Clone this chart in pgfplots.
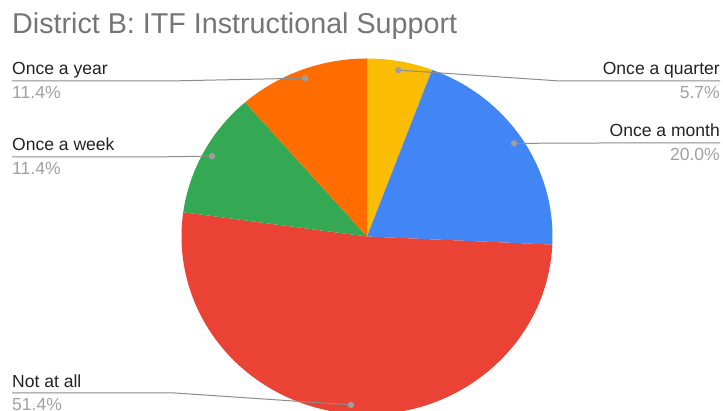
\documentclass[border=0pt]{standalone}
\usepackage{pgfplots}
\pgfplotsset{compat=1.18}
\usepackage{fontspec}
\setmainfont{Liberation Sans}
\definecolor{cQ}{HTML}{FBBC04}
\definecolor{cM}{HTML}{4285F4}
\definecolor{cN}{HTML}{EA4335}
\definecolor{cW}{HTML}{34A853}
\definecolor{cY}{HTML}{FF6D01}
\definecolor{titlegray}{HTML}{757575}
\definecolor{pctgray}{HTML}{A0A0A0}
\definecolor{linegray}{HTML}{8C8C8C}
\definecolor{dotgray}{HTML}{9E9E9E}
\definecolor{labeltext}{HTML}{222222}
\begin{document}
\begin{tikzpicture}
\useasboundingbox (0,0) rectangle (723bp,411bp);
\begin{axis}[at={(0,0)},anchor=south west,width=723bp,height=411bp,scale only axis,
  xmin=0,xmax=723,ymin=0,ymax=411,hide axis,clip=true]
\def\cx{367}\def\cy{174.5}\def\rx{185.5}\def\ry{178}
\pgfmathsetmacro{\tot}{5.7+20.0+51.4+11.4+11.4}
\xdef\ang{90}
\foreach \v/\col in {5.7/cQ, 20.0/cM, 51.4/cN, 11.4/cW, 11.4/cY}{
  \pgfmathsetmacro{\sweep}{\v/\tot*360}
  \pgfmathsetmacro{\stA}{\ang}
  \pgfmathsetmacro{\enA}{\ang-\sweep}
  \pgfmathsetmacro{\sx}{\cx+\rx*cos(\stA)}
  \pgfmathsetmacro{\sy}{\cy+\ry*sin(\stA)}
  \xdef\ang{\enA}
  \edef\temp{\noexpand\fill[\col] (axis cs:\cx,\cy) -- (axis cs:\sx,\sy)
     arc[start angle=\stA, end angle=\enA, x radius=\rx bp, y radius=\ry bp] -- cycle;}
  \temp
}
\xdef\ang{90}
\foreach \v/\name/\pct/\lx/\bx/\ly/\anc in {
  5.7/Once a quarter/5.7/720/560/81/base east,
  20.0/Once a month/20.0/720/600/143/base east,
  51.4/Not at all/51.4/12/175/393/base west,
  11.4/Once a week/11.4/12/150/157/base west,
  11.4/Once a year/11.4/12/168/81/base west}{
  \pgfmathsetmacro{\sweep}{\v/\tot*360}
  \pgfmathsetmacro{\miA}{\ang-\sweep/2}
  \pgfmathsetmacro{\enA}{\ang-\sweep}
  \pgfmathsetmacro{\ptx}{\cx+0.95*\rx*cos(\miA)}
  \pgfmathsetmacro{\pty}{\cy+0.95*\ry*sin(\miA)}
  \pgfmathsetmacro{\LY}{411-\ly}
  \pgfmathsetmacro{\NY}{411-\ly+6}
  \pgfmathsetmacro{\PY}{411-\ly-17.5}
  \xdef\ang{\enA}
  \edef\temp{\noexpand\draw[linegray,line width=1bp] (axis cs:\lx,\LY) -- (axis cs:\bx,\LY) -- (axis cs:\ptx,\pty);
    \noexpand\fill[dotgray] (axis cs:\ptx,\pty) circle[radius=3.2bp];
    \noexpand\node[anchor=\anc,inner sep=0pt,text=labeltext,font=\noexpand\fontsize{17.6}{20}\noexpand\selectfont] at (axis cs:\lx,\NY) {\name};
    \noexpand\node[anchor=\anc,inner sep=0pt,text=pctgray,font=\noexpand\fontsize{17.6}{20}\noexpand\selectfont] at (axis cs:\lx,\PY) {\pct\noexpand\%};}
  \temp
}
\node[anchor=base west,inner sep=0pt,text=titlegray,font=\fontsize{28.8}{32}\selectfont] at (axis cs:12,377.7) {District B: ITF Instructional Support};
\end{axis}
\end{tikzpicture}
\end{document}
